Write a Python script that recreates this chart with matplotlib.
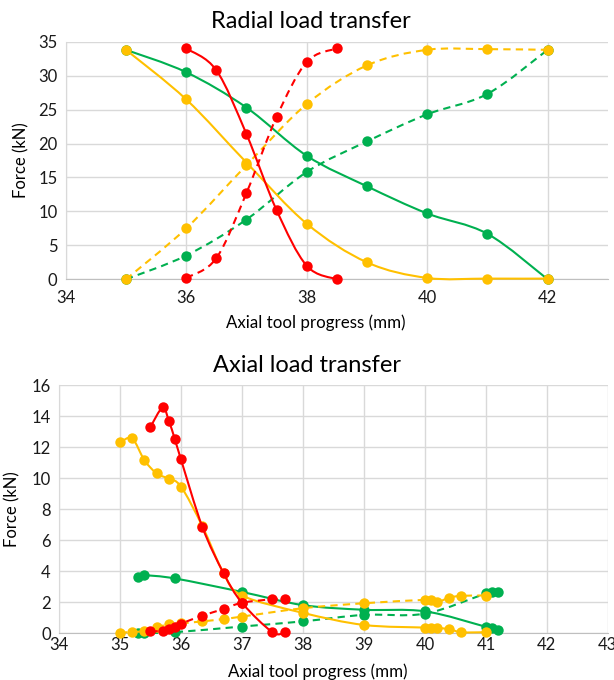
import numpy as np
import matplotlib
matplotlib.use('Agg')
import matplotlib.pyplot as plt
from matplotlib.path import Path
from matplotlib.patches import PathPatch

plt.rcParams['font.family'] = ['Lato', 'DejaVu Sans']

GREEN = '#00b050'
YELLOW = '#ffc000'
RED = '#ff0000'

# radial load transfer (top)
rad_g_x = [35, 36, 37, 38, 39, 40, 41, 42]
rad_g_solid = [33.8, 30.5, 25.3, 18.2, 13.7, 9.7, 6.7, 0.0]
rad_g_dash = [0.0, 3.5, 8.8, 15.8, 20.3, 24.3, 27.3, 33.8]
rad_y_x = [35, 36, 37, 38, 39, 40, 41, 42]
rad_y_solid = [33.8, 26.5, 17.2, 8.2, 2.5, 0.2, 0.1, 0.1]
rad_y_dash = [0.0, 7.5, 16.8, 25.8, 31.5, 33.8, 33.9, 33.8]
rad_r_x = [36, 36.5, 37, 37.5, 38, 38.5]
rad_r_solid = [34.0, 30.8, 21.4, 10.2, 2.0, 0.0]
rad_r_dash = [0.2, 3.1, 12.7, 23.9, 32.0, 34.0]

# axial load transfer (bottom)
ax_g_x = [35.3, 35.4, 35.9, 37, 38, 39, 40, 41, 41.1, 41.2]
ax_g_solid = [3.6, 3.72, 3.52, 2.65, 1.8, 1.5, 1.4, 0.4, 0.3, 0.18]
ax_g_dash = [0.0, 0.0, 0.05, 0.42, 0.75, 1.17, 1.25, 2.55, 2.62, 2.65]
ax_y_x = [35.0, 35.2, 35.4, 35.6, 35.8, 36.0, 36.35, 36.7, 37, 38, 39, 40, 40.1, 40.2, 40.4, 40.6, 41]
ax_y_solid = [12.3, 12.55, 11.15, 10.3, 9.95, 9.45, 6.9, 3.85, 2.42, 1.3, 0.52, 0.35, 0.32, 0.32, 0.25, 0.05, 0.05]
ax_y_dash = [0.02, 0.07, 0.12, 0.37, 0.55, 0.62, 0.75, 0.9, 1.06, 1.6, 1.92, 2.14, 2.1, 1.98, 2.28, 2.4, 2.42]
ax_r_x = [35.5, 35.7, 35.8, 35.9, 36.0, 36.35, 36.7, 37.0, 37.5, 37.7]
ax_r_solid = [13.3, 14.55, 13.7, 12.5, 11.2, 6.85, 3.85, 1.95, 0.05, 0.05]
ax_r_dash = [0.1, 0.15, 0.28, 0.4, 0.6, 1.12, 1.55, 1.95, 2.18, 2.18]


def smooth_path(x, y):
    # excel like smoothed line (bezier through the points)
    p = np.column_stack([x, y]).astype(float)
    n = len(p)
    verts = [p[0]]
    codes = [Path.MOVETO]
    for i in range(n - 1):
        p0 = p[i - 1] if i > 0 else p[i]
        p3 = p[i + 2] if i + 2 < n else p[i + 1]
        c1 = p[i] + (p[i + 1] - p0) / 6.0
        c2 = p[i + 1] - (p3 - p[i]) / 6.0
        verts += [c1, c2, p[i + 1]]
        codes += [Path.CURVE4] * 3
    return Path(verts, codes)


def serie(ax, x, y, color, dashed, z):
    ls = (0, (3.5, 2.5)) if dashed else '-'
    patch = PathPatch(smooth_path(x, y), fill=False, edgecolor=color, lw=1.5,
                      linestyle=ls, capstyle='butt', zorder=z, clip_on=False)
    ax.add_patch(patch)
    ax.plot(x, y, 'o', color=color, ms=7.5, mew=0, zorder=z + 0.5, clip_on=False)


def style(ax, xpad):
    ax.grid(True, color='#d9d9d9', lw=1)
    ax.set_axisbelow(True)
    for s in ['top', 'right']:
        ax.spines[s].set_visible(False)
    ax.spines['left'].set_color('#d9d9d9')
    ax.spines['bottom'].set_color('#bfbfbf')
    ax.tick_params(length=0, labelsize=12, colors='#1a1a1a', pad=6)
    ax.tick_params(axis='x', pad=xpad)


fig = plt.figure(figsize=(6.14, 6.80), dpi=100)

ax1 = fig.add_axes([0.107, 0.5893, 0.883, 0.3494])
style(ax1, 8)
serie(ax1, rad_g_x, rad_g_solid, GREEN, False, 3)
serie(ax1, rad_g_x, rad_g_dash, GREEN, True, 3)
serie(ax1, rad_y_x, rad_y_solid, YELLOW, False, 4)
serie(ax1, rad_y_x, rad_y_dash, YELLOW, True, 4)
serie(ax1, rad_r_x, rad_r_solid, RED, False, 5)
serie(ax1, rad_r_x, rad_r_dash, RED, True, 5)
ax1.set_xlim(34, 43)
ax1.set_ylim(0, 35)
ax1.set_xticks(np.arange(34, 43, 2))
ax1.set_yticks(np.arange(0, 36, 5))
ax1.set_ylabel('Force (kN)', fontsize=12)
ax1.yaxis.set_label_coords(-0.0677, 0.5)

ax2 = fig.add_axes([0.0961, 0.0691, 0.8939, 0.3647])
style(ax2, 3)
serie(ax2, ax_g_x, ax_g_solid, GREEN, False, 3)
serie(ax2, ax_g_x, ax_g_dash, GREEN, True, 3)
serie(ax2, ax_y_x, ax_y_solid, YELLOW, False, 4)
serie(ax2, ax_y_x, ax_y_dash, YELLOW, True, 4)
serie(ax2, ax_r_x, ax_r_solid, RED, False, 5)
serie(ax2, ax_r_x, ax_r_dash, RED, True, 5)
ax2.set_xlim(34, 43)
ax2.set_ylim(0, 16)
ax2.set_xticks(np.arange(34, 44, 1))
ax2.set_yticks(np.arange(0, 17, 2))
ax2.set_ylabel('Force (kN)', fontsize=12)
ax2.yaxis.set_label_coords(-0.0698, 0.5)

fig.text(311 / 614, 1 - 21 / 680, 'Radial load transfer', ha='center', va='center', fontsize=17)
fig.text(316 / 614, 1 - 323 / 680, 'Axial tool progress (mm)', ha='center', va='center', fontsize=12.2)
fig.text(307 / 614, 1 - 366 / 680, 'Axial load transfer', ha='center', va='center', fontsize=17)
fig.text(318 / 614, 1 - 672 / 680, 'Axial tool progress (mm)', ha='center', va='center', fontsize=12.2)

fig.savefig('out.png', dpi=100)
